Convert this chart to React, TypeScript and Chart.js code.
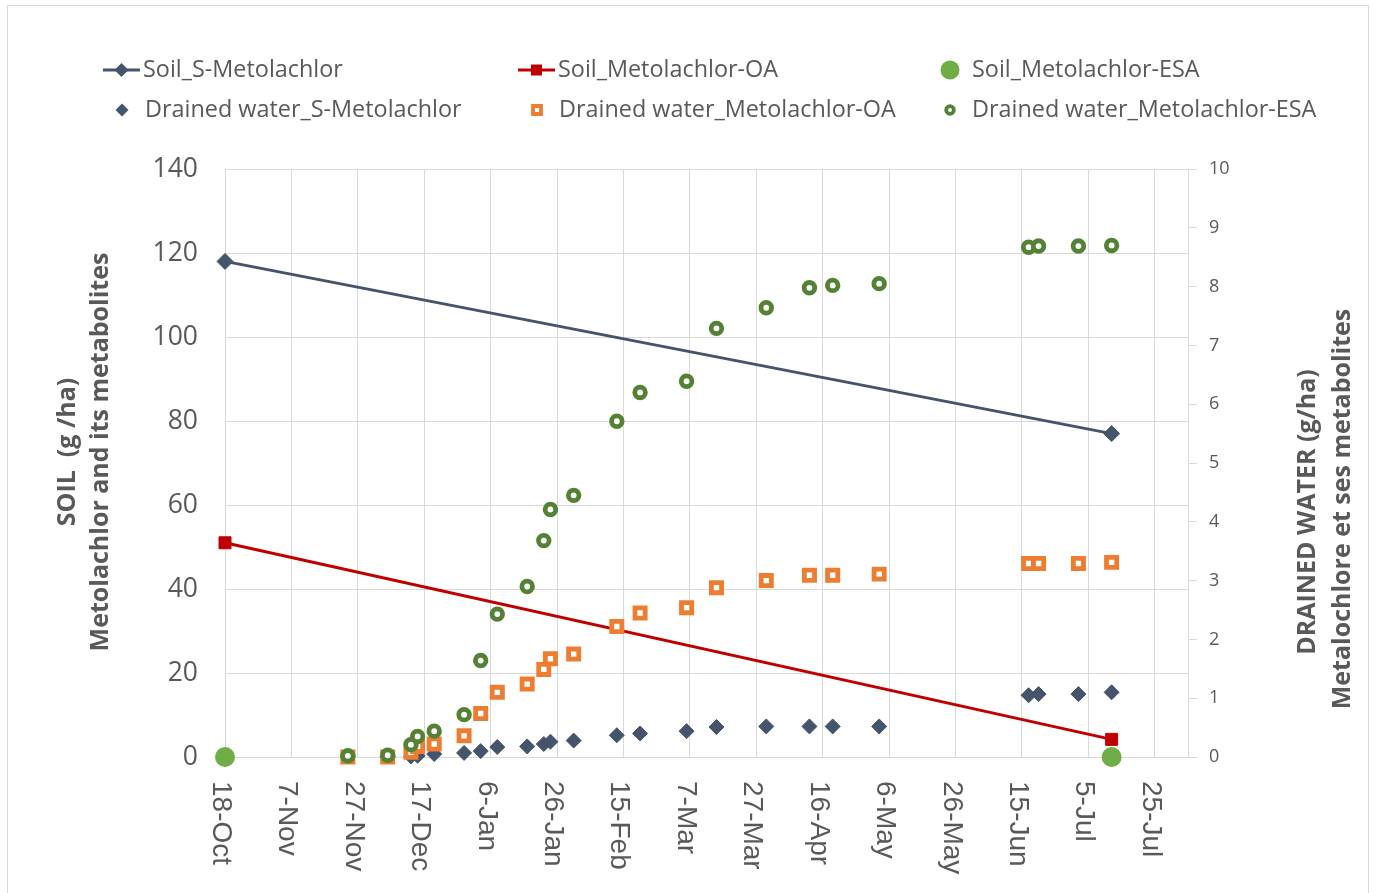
import React, { useEffect, useRef } from 'react';
import { Chart, registerables } from 'chart.js';

Chart.register(...registerables);

// ---------- data ----------
// x values are days counted from 18-Oct
const tickDays = [0, 20, 40, 60, 80, 100, 120, 140, 160, 180, 200, 220, 240, 260, 280];
const tickLabels = ['18-Oct', '7-Nov', '27-Nov', '17-Dec', '6-Jan', '26-Jan', '15-Feb', '7-Mar', '27-Mar', '16-Apr', '6-May', '26-May', '15-Jun', '5-Jul', '25-Jul'];

const soilDays = [0, 267];
const soilSMetolachlor = [118, 77];
const soilMetolachlorOA = [51, 4.2];
const soilMetolachlorESA = [0, 0];

const drainDays = [37, 49, 56, 58, 63, 72, 77, 82, 91, 96, 98, 105, 118, 125, 139, 148, 163, 176, 183, 197, 242, 245, 257, 267];
const drainSMetolachlor = [0.01, 0.01, 0.01, 0.02, 0.05, 0.07, 0.1, 0.17, 0.18, 0.22, 0.26, 0.28, 0.37, 0.4, 0.44, 0.51, 0.52, 0.52, 0.52, 0.52, 1.05, 1.07, 1.07, 1.1];
const drainMetolachlorOA = [0.0, 0.0, 0.08, 0.18, 0.22, 0.36, 0.74, 1.1, 1.24, 1.49, 1.67, 1.75, 2.22, 2.45, 2.54, 2.88, 3.0, 3.09, 3.09, 3.11, 3.29, 3.29, 3.29, 3.31];
const drainMetolachlorESA = [0.02, 0.03, 0.21, 0.35, 0.44, 0.72, 1.64, 2.43, 2.9, 3.68, 4.21, 4.45, 5.71, 6.2, 6.39, 7.29, 7.64, 7.98, 8.02, 8.05, 8.67, 8.69, 8.69, 8.7];

const seriesNames = [
  'Soil_S-Metolachlor',
  'Soil_Metolachlor-OA',
  'Soil_Metolachlor-ESA',
  'Drained water_S-Metolachlor',
  'Drained water_Metolachlor-OA',
  'Drained water_Metolachlor-ESA',
];

const leftTitle = ['SOIL  (g /ha)', 'Metolachlor and its metabolites'];
const rightTitle = ['DRAINED WATER (g/ha)', 'Metalochlore et ses metabolites'];

// ---------- styles ----------
const GRAY = '#595959';
const GRID = '#d9d9d9';
const SLATE = '#44546A';
const RED = '#C00000';
const LGREEN = '#70AD47';
const ORANGE = '#ED7D31';
const DGREEN = '#548235';
const FONT = '"Open Sans", "Noto Sans", sans-serif';

function pts(xs: number[], ys: number[]) {
  return xs.map((x, i) => ({ x, y: ys[i] }));
}

function drawMarker(ctx: CanvasRenderingContext2D, kind: string, x: number, y: number, r: number, fill: string, stroke: string, lw: number) {
  ctx.beginPath();
  if (kind === 'diamond') {
    ctx.moveTo(x - r, y);
    ctx.lineTo(x, y - r);
    ctx.lineTo(x + r, y);
    ctx.lineTo(x, y + r);
    ctx.closePath();
  } else if (kind === 'square') {
    ctx.rect(x - r, y - r, 2 * r, 2 * r);
  } else {
    ctx.arc(x, y, r, 0, Math.PI * 2);
  }
  ctx.fillStyle = fill;
  ctx.fill();
  if (lw > 0) {
    ctx.lineWidth = lw;
    ctx.strokeStyle = stroke;
    ctx.stroke();
  }
}

function drawVertical(ctx: CanvasRenderingContext2D, text: string, cx: number, cy: number) {
  ctx.save();
  ctx.translate(cx, cy);
  ctx.rotate(-Math.PI / 2);
  ctx.textAlign = 'center';
  ctx.textBaseline = 'middle';
  ctx.fillText(text, 0, 0);
  ctx.restore();
}

const overlayPlugin = {
  id: 'overlay',
  afterDraw(chart: any) {
    const ctx: CanvasRenderingContext2D = chart.ctx;
    const xs = chart.scales.x;
    ctx.save();

    // outer frame
    ctx.strokeStyle = GRID;
    ctx.lineWidth = 1;
    ctx.strokeRect(7.5, 5.5, 1361, 900);

    // x tick labels (rotated, reading downward)
    ctx.fillStyle = GRAY;
    ctx.font = '28px "Liberation Sans", Arial, sans-serif';
    ctx.textAlign = 'left';
    ctx.textBaseline = 'alphabetic';
    tickDays.forEach((d, i) => {
      const px = xs.getPixelForValue(d);
      ctx.save();
      ctx.translate(px, 781);
      ctx.rotate(Math.PI / 2);
      ctx.fillText(tickLabels[i], 0, 12);
      ctx.restore();
    });

    // axis titles
    ctx.fillStyle = GRAY;
    ctx.font = 'bold 25px ' + FONT;
    drawVertical(ctx, leftTitle[0], 68, 452);
    drawVertical(ctx, leftTitle[1], 101, 452);
    drawVertical(ctx, rightTitle[0], 1308, 512);
    drawVertical(ctx, rightTitle[1], 1343, 509);

    // legend
    ctx.font = '23.4px ' + FONT;
    ctx.textAlign = 'left';
    ctx.textBaseline = 'middle';
    const row1 = 70;
    const row2 = 110;
    // Soil_S-Metolachlor
    ctx.strokeStyle = SLATE; ctx.lineWidth = 3;
    ctx.beginPath(); ctx.moveTo(103, row1); ctx.lineTo(140, row1); ctx.stroke();
    drawMarker(ctx, 'diamond', 121.5, row1, 7, SLATE, SLATE, 0);
    ctx.fillStyle = GRAY; ctx.fillText(seriesNames[0], 143, row1);
    // Soil_Metolachlor-OA
    ctx.strokeStyle = RED; ctx.lineWidth = 3;
    ctx.beginPath(); ctx.moveTo(518, row1); ctx.lineTo(555, row1); ctx.stroke();
    drawMarker(ctx, 'square', 536.5, row1, 5.5, RED, RED, 0);
    ctx.fillStyle = GRAY; ctx.fillText(seriesNames[1], 558, row1);
    // Soil_Metolachlor-ESA
    drawMarker(ctx, 'circle', 950, row1, 9.5, LGREEN, LGREEN, 0);
    ctx.fillStyle = GRAY; ctx.fillText(seriesNames[2], 972, row1);
    // Drained water_S-Metolachlor
    drawMarker(ctx, 'diamond', 122, row2, 6.5, SLATE, SLATE, 0);
    ctx.fillStyle = GRAY; ctx.fillText(seriesNames[3], 145, row2);
    // Drained water_Metolachlor-OA
    drawMarker(ctx, 'square', 537, row2, 4, '#ffffff', ORANGE, 3.8);
    ctx.fillStyle = GRAY; ctx.fillText(seriesNames[4], 559, row2);
    // Drained water_Metolachlor-ESA
    drawMarker(ctx, 'circle', 950, row2, 3.8, '#ffffff', DGREEN, 3.8);
    ctx.fillStyle = GRAY; ctx.fillText(seriesNames[5], 972, row2);

    ctx.restore();
  },
};

export default function App() {
  const canvasRef = useRef<HTMLCanvasElement | null>(null);

  useEffect(() => {
    const canvas = canvasRef.current;
    if (!canvas) return;

    const chart = new Chart(canvas, {
      type: 'line',
      data: {
        datasets: [
          {
            label: seriesNames[0],
            data: pts(soilDays, soilSMetolachlor),
            yAxisID: 'y',
            borderColor: SLATE,
            backgroundColor: SLATE,
            borderWidth: 3,
            pointStyle: 'rectRot',
            pointRadius: 8,
            pointBackgroundColor: SLATE,
            pointBorderColor: SLATE,
            pointBorderWidth: 1,
            order: 5,
            clip: false,
          },
          {
            label: seriesNames[1],
            data: pts(soilDays, soilMetolachlorOA),
            yAxisID: 'y',
            borderColor: RED,
            backgroundColor: RED,
            borderWidth: 3,
            pointStyle: 'rect',
            pointRadius: 8.5,
            pointBackgroundColor: RED,
            pointBorderColor: RED,
            pointBorderWidth: 1,
            order: 4,
            clip: false,
          },
          {
            label: seriesNames[2],
            data: pts(soilDays, soilMetolachlorESA),
            yAxisID: 'y',
            showLine: false,
            borderColor: LGREEN,
            backgroundColor: LGREEN,
            pointStyle: 'circle',
            pointRadius: 10,
            pointBackgroundColor: LGREEN,
            pointBorderColor: LGREEN,
            pointBorderWidth: 0,
            order: 3,
            clip: false,
          },
          {
            label: seriesNames[3],
            data: pts(drainDays, drainSMetolachlor),
            yAxisID: 'y1',
            showLine: false,
            borderColor: SLATE,
            backgroundColor: SLATE,
            pointStyle: 'rectRot',
            pointRadius: 7.5,
            pointBackgroundColor: SLATE,
            pointBorderColor: SLATE,
            pointBorderWidth: 1,
            order: 2,
            clip: false,
          },
          {
            label: seriesNames[4],
            data: pts(drainDays, drainMetolachlorOA),
            yAxisID: 'y1',
            showLine: false,
            borderColor: ORANGE,
            backgroundColor: '#ffffff',
            pointStyle: 'rect',
            pointRadius: 7.2,
            pointBackgroundColor: '#ffffff',
            pointBorderColor: ORANGE,
            pointBorderWidth: 4.8,
            order: 1,
            clip: false,
          },
          {
            label: seriesNames[5],
            data: pts(drainDays, drainMetolachlorESA),
            yAxisID: 'y1',
            showLine: false,
            borderColor: DGREEN,
            backgroundColor: '#ffffff',
            pointStyle: 'circle',
            pointRadius: 5.3,
            pointBackgroundColor: '#ffffff',
            pointBorderColor: DGREEN,
            pointBorderWidth: 4.8,
            order: 0,
            clip: false,
          },
        ],
      },
      options: {
        responsive: false,
        animation: false,
        events: [],
        layout: { padding: { top: 169, left: 0, right: 0, bottom: 0 } },
        plugins: {
          legend: { display: false },
          tooltip: { enabled: false },
          title: { display: false },
        },
        scales: {
          x: {
            type: 'linear',
            position: 'bottom',
            min: 0,
            max: 290,
            afterBuildTicks: (scale: any) => {
              scale.ticks = tickDays.map((v) => ({ value: v }));
            },
            afterFit: (scale: any) => {
              scale.height = 136;
            },
            ticks: { display: false },
            grid: { color: GRID, lineWidth: 1, drawTicks: false },
            border: { display: true, color: GRID, width: 1 },
          },
          y: {
            type: 'linear',
            position: 'left',
            min: 0,
            max: 140,
            afterFit: (scale: any) => {
              scale.width = 225;
            },
            ticks: {
              stepSize: 20,
              color: GRAY,
              padding: 27,
              font: { family: FONT, size: 26.5 },
            },
            grid: { color: GRID, lineWidth: 1, drawTicks: false },
            border: { display: false },
          },
          y1: {
            type: 'linear',
            position: 'right',
            min: 0,
            max: 10,
            afterFit: (scale: any) => {
              scale.width = 188;
            },
            ticks: {
              stepSize: 1,
              color: GRAY,
              padding: 12,
              font: { family: FONT, size: 18 },
            },
            grid: { display: true, drawOnChartArea: false, drawTicks: true, tickLength: 9, color: GRID },
            border: { display: true, color: GRID, width: 1 },
          },
        },
      } as any,
      plugins: [overlayPlugin],
    });

    return () => {
      chart.destroy();
    };
  }, []);

  return (
    <div style={{ position: 'absolute', left: 0, top: 0, width: 1376, height: 893, background: '#ffffff' }}>
      <canvas ref={canvasRef} width={1376} height={893} style={{ display: 'block', width: 1376, height: 893 }} />
    </div>
  );
}
